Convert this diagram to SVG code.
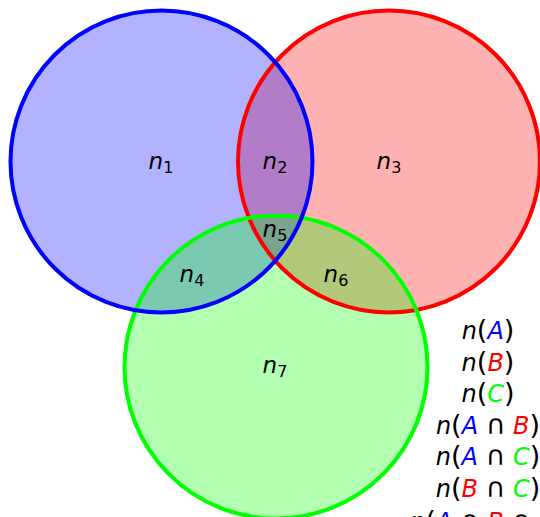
<svg xmlns="http://www.w3.org/2000/svg" width="540" height="517" viewBox="0 0 540 517">
<style>
.fill{fill-opacity:0.3;stroke:none}
.ring{fill:none;stroke-width:4}
.lbl{font-family:"DejaVu Sans",sans-serif;font-size:23px;font-style:italic;fill:#000;text-anchor:middle}
.sub{font-size:16px;font-style:normal}
.eq{font-family:"DejaVu Sans",sans-serif;font-size:24px;fill:#000;text-anchor:middle}
.cap{font-size:27px}
.i{font-style:italic}
</style>
<rect width="540" height="517" fill="#fff"/>
<g id="fills">
<circle class="fill" cx="389" cy="161.5" r="151" fill="#f00"/>
<circle class="fill" cx="161.5" cy="161.5" r="151" fill="#00f"/>
<circle class="fill" cx="276" cy="367" r="151.5" fill="#0f0"/>
</g>
<g id="connectors"></g>
<g id="setB"><circle class="ring" cx="389" cy="161.5" r="151" stroke="#f00"/></g>
<g id="setC"><circle class="ring" cx="276" cy="367" r="151.5" stroke="#0f0"/></g>
<g id="setA"><circle class="ring" cx="161.5" cy="161.5" r="151" stroke="#00f"/></g>
<g id="labels">
<text class="lbl" x="161" y="169">n<tspan class="sub" dy="4">1</tspan></text>
<text class="lbl" x="275" y="169">n<tspan class="sub" dy="4">2</tspan></text>
<text class="lbl" x="389" y="169">n<tspan class="sub" dy="4">3</tspan></text>
<text class="lbl" x="275" y="237">n<tspan class="sub" dy="4">5</tspan></text>
<text class="lbl" x="192" y="282">n<tspan class="sub" dy="4">4</tspan></text>
<text class="lbl" x="336" y="282">n<tspan class="sub" dy="4">6</tspan></text>
<text class="lbl" x="275" y="373">n<tspan class="sub" dy="4">7</tspan></text>
</g>
<g id="formulas">
<text class="eq" x="488" y="339"><tspan class="i">n</tspan><tspan class="cap">(</tspan><tspan class="i" fill="#00f">A</tspan><tspan class="cap">)</tspan></text>
<text class="eq" x="488" y="370.5"><tspan class="i">n</tspan><tspan class="cap">(</tspan><tspan class="i" fill="#f00">B</tspan><tspan class="cap">)</tspan></text>
<text class="eq" x="488" y="402"><tspan class="i">n</tspan><tspan class="cap">(</tspan><tspan class="i" fill="#0f0">C</tspan><tspan class="cap">)</tspan></text>
<text class="eq" x="488" y="433.5"><tspan class="i">n</tspan><tspan class="cap">(</tspan><tspan class="i" fill="#00f">A</tspan> <tspan class="cap">∩</tspan> <tspan class="i" fill="#f00">B</tspan><tspan class="cap">)</tspan></text>
<text class="eq" x="488" y="465"><tspan class="i">n</tspan><tspan class="cap">(</tspan><tspan class="i" fill="#00f">A</tspan> <tspan class="cap">∩</tspan> <tspan class="i" fill="#0f0">C</tspan><tspan class="cap">)</tspan></text>
<text class="eq" x="488" y="496.5"><tspan class="i">n</tspan><tspan class="cap">(</tspan><tspan class="i" fill="#f00">B</tspan> <tspan class="cap">∩</tspan> <tspan class="i" fill="#0f0">C</tspan><tspan class="cap">)</tspan></text>
<text class="eq" x="488" y="530"><tspan class="i">n</tspan><tspan class="cap">(</tspan><tspan class="i" fill="#00f">A</tspan> <tspan class="cap">∩</tspan> <tspan class="i" fill="#f00">B</tspan> <tspan class="cap">∩</tspan> <tspan class="i" fill="#0f0">C</tspan><tspan class="cap">)</tspan></text>
</g>
</svg>
